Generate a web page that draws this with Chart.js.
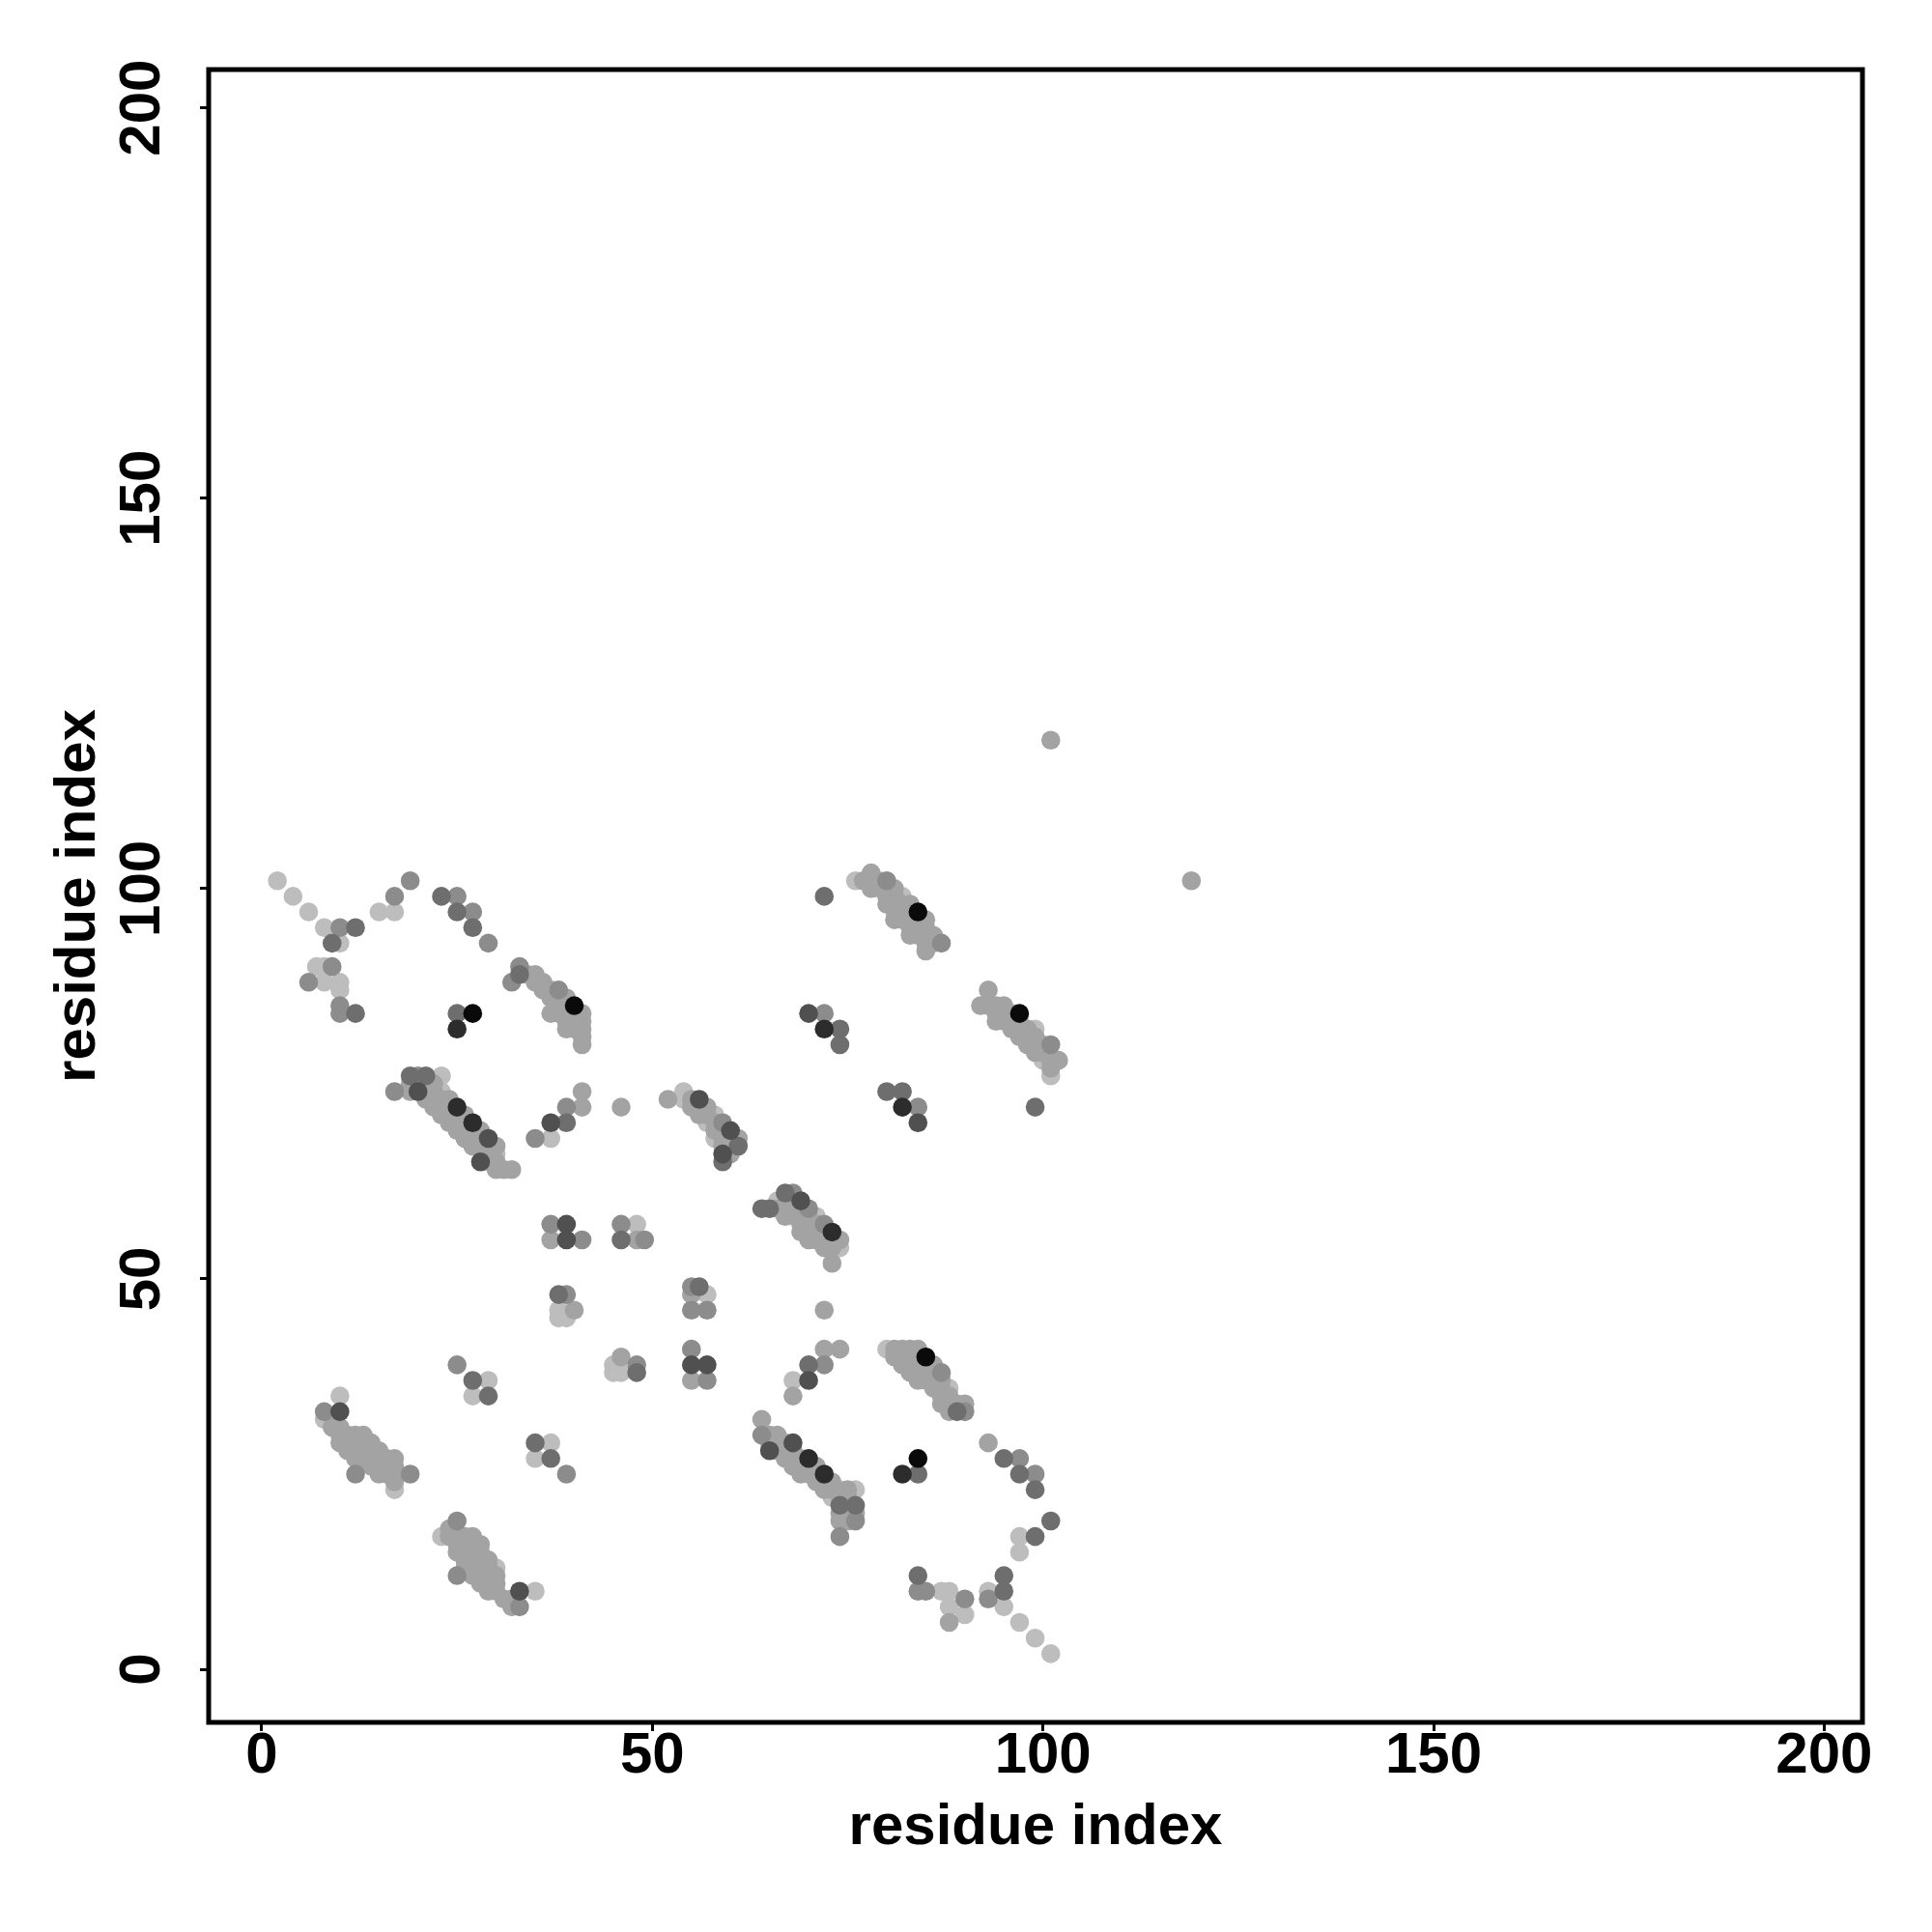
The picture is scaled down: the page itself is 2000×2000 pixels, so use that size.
<!DOCTYPE html>
<html>
<head>
<meta charset="utf-8">
<title>residue contact map</title>
<script src="https://cdn.jsdelivr.net/npm/chart.js@4/dist/chart.umd.min.js"></script>
<style>
  body { margin: 0; background: #fff; }
  #wrap { width: 2000px; height: 2000px; }
</style>
</head>
<body>
<div id="wrap"><canvas id="mapa" width="2000" height="2000"></canvas></div>
<script>
// tick labels on both axes
const ejeTicks = [0, 50, 100, 150, 200];

// contacts grouped by shade of grey, [i, j] residue pairs
const negros = [[27,84],[40,85],[84,97],[97,84],[85,40],[84,27]];

const muyOscuros = [[25,82],[25,72],[27,70],[73,56],[72,82],[82,72],[70,27],[72,25],[82,25]];

const oscuros = [[37,70],[20,74],[29,68],[28,65],[56,73],[60,69],[59,66],[39,57],[39,55],[55,39],
  [57,39],[69,60],[70,37],[70,84],[84,70],[65,28],[68,29],[10,33],[33,10]];

const medioOscuros = [[12,95],[9,93],[23,99],[25,97],[27,95],[12,84],[25,84],[19,76],[21,76],[39,70],
  [61,67],[59,65],[46,55],[48,38],[38,48],[56,49],[64,59],[65,59],[67,61],[70,39],[72,99],[74,82],
  [74,80],[80,74],[82,74],[99,72],[95,27],[97,25],[99,23],[101,19],[99,17],[74,21],[76,21],[84,12],
  [95,12],[95,10],[27,37],[29,35],[35,29],[37,27],[84,25],[89,33],[33,89]];

const medios = [[10,95],[17,99],[19,101],[25,99],[27,97],[29,93],[9,90],[6,88],[10,85],[10,84],[33,90],
  [32,88],[38,87],[39,72],[35,68],[17,74],[20,76],[37,57],[41,55],[46,57],[49,55],[39,48],[55,49],
  [55,46],[57,46],[48,39],[55,41],[57,37],[59,70],[68,61],[70,59],[72,57],[72,39],[72,84],[84,72],
  [80,101],[87,93],[101,80],[87,38],[90,33],[97,27],[99,25],[76,19],[74,17],[84,10],[85,10],[90,9],
  [93,9],[8,33],[12,25],[19,25],[25,39],[39,25],[25,19],[25,12],[33,8],[64,30]];

const medioClaros = [
  [34,89],[35,89],[35,88],[36,88],[37,87],[36,87],[37,86],[38,86],[39,86],[38,85],[39,85],[37,84],
  [38,84],[39,84],[40,84],[41,84],[39,83],[40,83],[41,83],[39,82],[40,82],[41,82],[41,81],[41,80],
  [41,74],[41,72],[46,72],[37,55],[40,46],[55,48],[46,40],[55,37],[48,55],
  [19,75],[20,75],[21,75],[22,75],[19,74],[21,74],[22,74],[21,73],[23,73],[24,73],[22,72],[23,72],
  [24,72],[23,71],[25,71],[26,71],[24,70],[25,70],[26,70],[25,69],[27,69],[28,69],[26,68],[27,68],
  [28,68],[27,67],[28,67],[29,67],[30,67],[29,66],[30,65],[30,64],[31,64],[32,64],
  [52,73],[55,73],[55,72],[56,72],[57,72],[56,71],[57,71],[58,70],[58,69],[59,69],[59,68],[60,68],
  [61,68],[59,67],[60,67],[60,66],
  [67,59],[68,59],[68,60],[66,59],[67,58],[69,58],[70,58],[69,57],[70,57],[71,57],[69,56],[71,56],
  [72,56],[70,55],[71,55],[72,55],[73,55],[74,55],[72,54],[73,54],[73,52],
  [72,46],[72,41],[74,41],[68,35],
  [77,101],[78,102],[78,101],[79,101],[78,100],[80,100],[81,100],[80,99],[81,99],[80,98],[81,98],
  [82,98],[83,98],[82,97],[83,97],[81,96],[82,96],[83,96],[84,96],[85,96],[83,95],[84,95],[85,95],
  [83,94],[84,94],[85,94],[86,94],[85,93],[86,93],[85,92],
  [93,87],[92,85],[93,85],[94,85],[95,85],[94,84],[95,84],[96,84],[94,83],[95,83],[96,83],[97,83],
  [96,82],[97,82],[98,82],[97,81],[99,81],[98,80],[99,80],[100,80],[99,79],[100,79],[101,78],
  [102,78],[101,77],
  [81,41],[82,41],[83,41],[84,41],[81,40],[83,40],[84,40],[82,39],[83,39],[84,39],[85,39],[86,39],
  [83,38],[84,38],[85,38],[86,38],[84,37],[85,37],[86,37],[87,37],[86,36],[87,36],[87,35],[88,35],
  [87,34],[88,34],[89,34],[90,34],[88,33],
  [93,29],[88,6],[101,119],[119,101],[64,32],
  [9,31],[10,31],[10,30],[11,30],[12,30],[13,30],[10,29],[11,29],[13,29],[14,29],[11,28],[12,28],
  [13,28],[14,28],[15,28],[12,27],[13,27],[15,27],[16,27],[17,27],[14,26],[15,26],[16,26],[17,26],
  [15,25],[16,25],[17,25],[17,24],
  [24,18],[24,17],[25,17],[26,17],[27,17],[25,16],[26,16],[27,16],[28,16],[25,15],[26,15],[27,15],
  [28,15],[26,14],[28,14],[29,14],[26,13],[27,13],[28,13],[29,13],[27,12],[28,12],[30,12],[28,11],
  [29,11],[30,11],[29,10],[30,10],[31,9],[32,9],[32,8],
  [65,30],[66,30],[65,29],[67,29],[66,28],[67,28],[68,28],[67,27],[68,27],[69,27],[68,26],[69,26],
  [70,26],[71,26],[69,25],[70,25],[71,25],[71,24],[72,24],[73,24],[72,23],[73,23],[75,23],[74,22],
  [75,22],[75,21],[74,20],[76,20],[74,19],[75,19]];

const claros = [[2,101],[4,99],[6,97],[8,95],[10,93],[15,97],[17,97],[7,90],[8,90],[8,88],[10,88],
  [10,87],[37,68],[23,76],[23,74],[22,73],[24,71],[26,69],[30,66],[29,65],[54,74],[54,73],[58,71],
  [57,70],[58,68],[48,57],[38,46],[38,45],[39,45],[57,48],[45,39],[45,38],[46,38],[66,60],[71,58],
  [74,54],[70,56],[68,58],[68,37],[76,101],[82,99],[79,100],[81,97],[99,82],[100,78],[101,76],
  [98,81],[80,41],[88,36],[82,40],[97,17],[97,15],[74,23],[76,23],[87,10],[88,10],[88,8],[90,7],
  [93,10],[95,8],[97,6],[99,4],[101,2],[10,35],[8,32],[17,23],[12,29],[14,27],[29,37],[27,35],
  [37,29],[35,27],[23,17],[35,10],[30,13],[27,14],[29,12],[66,29],[73,22],[75,20]];

const fuente = 'Liberation Sans, Arial, Helvetica, sans-serif';

function aPuntos(lista) {
    return lista.map(p => ({ x: p[0], y: p[1] }));
}

// dataset 0 is painted last, so the darkest go first
const grupos = [
    { datos: negros, color: '#0a0a0a' },
    { datos: muyOscuros, color: '#2c2c2c' },
    { datos: oscuros, color: '#505050' },
    { datos: medioOscuros, color: '#6e6e6e' },
    { datos: medios, color: '#8c8c8c' },
    { datos: medioClaros, color: '#a3a3a3' },
    { datos: claros, color: '#bdbdbd' }
];

// black frame around the plot area
const marco = {
    id: 'marco',
    afterDraw(chart) {
        const { ctx, chartArea } = chart;
        ctx.save();
        ctx.strokeStyle = '#000';
        ctx.lineWidth = 5;
        ctx.strokeRect(chartArea.left, chartArea.top, chartArea.right - chartArea.left, chartArea.bottom - chartArea.top);
        ctx.restore();
    }
};

function ejeComun() {
    return {
        type: 'linear',
        min: -6.8,
        max: 204.9,
        afterBuildTicks: s => { s.ticks = ejeTicks.map(v => ({ value: v })); },
        grid: { drawOnChartArea: false, drawTicks: true, tickLength: 9, tickWidth: 3, color: '#000' },
        border: { display: false },
        title: {
            display: true,
            text: 'residue index',
            color: '#000',
            font: { family: fuente, size: 60, weight: 'bold' }
        }
    };
}

const ejeX = ejeComun();
ejeX.position = 'bottom';
ejeX.afterFit = s => { s.height = 217; };
ejeX.ticks = { color: '#000', autoSkip: false, maxRotation: 0, minRotation: 0, padding: -4,
    font: { family: fuente, size: 60, weight: 'bold', lineHeight: 1 } };
ejeX.title.padding = { top: 0, bottom: 72 };

const ejeY = ejeComun();
ejeY.position = 'left';
ejeY.afterFit = s => { s.width = 216; };
ejeY.ticks = { color: '#000', autoSkip: false, maxRotation: 90, minRotation: 90, padding: 8, crossAlign: 'center',
    font: { family: fuente, size: 60, weight: 'bold', lineHeight: 1 } };
ejeY.title.padding = { top: 45, bottom: 0 };

new Chart(document.getElementById('mapa').getContext('2d'), {
    type: 'scatter',
    data: {
        datasets: grupos.map(g => ({
            data: aPuntos(g.datos),
            backgroundColor: g.color,
            borderWidth: 0,
            pointRadius: 9.8,
            pointHoverRadius: 9.8
        }))
    },
    options: {
        responsive: false,
        animation: false,
        layout: { padding: { top: 72, right: 72, left: 0, bottom: 0 } },
        plugins: { legend: { display: false }, tooltip: { enabled: false } },
        scales: { x: ejeX, y: ejeY }
    },
    plugins: [marco]
});
</script>
</body>
</html>
